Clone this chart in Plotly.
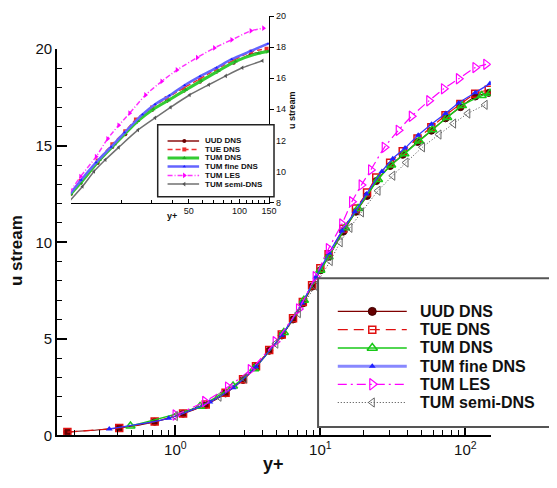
import math
import plotly.graph_objects as go

# ---------------- data ----------------
names = ["UUD DNS", "TUE DNS", "TUM DNS", "TUM fine DNS", "TUM LES", "TUM semi-DNS"]

yp_uud = [0.18, 0.41, 0.72, 1.13, 1.62, 2.22, 2.93, 3.6, 4.44, 5.42, 6.48, 7.57, 8.77, 10.0, 11.4,
          14.4, 17.6, 21.0, 24.3, 30.3, 37, 46.8, 58.3, 73, 92.5, 117, 145]
u_uud = [0.17, 0.38, 0.70, 1.12, 1.58, 2.17, 2.87, 3.55, 4.38, 5.17, 6.0, 6.83, 7.7, 8.55, 9.25,
         10.55, 11.58, 12.4, 13.17, 13.95, 14.53, 15.2, 15.78, 16.42, 17.0, 17.55, 17.74]

yp_tue = yp_uud
u_tue = [0.17, 0.38, 0.71, 1.13, 1.6, 2.2, 2.9, 3.58, 4.42, 5.22, 6.06, 6.9, 7.78, 8.65, 9.38,
         10.7, 11.75, 12.58, 13.35, 14.12, 14.72, 15.38, 15.96, 16.58, 17.16, 17.7, 17.9]

yp_tum = [0.49, 1.48, 2.5, 3.5, 5.6, 7.7, 10, 11.4, 14.8, 18.2, 25, 30.8, 38, 48, 59.2, 75,
          94.8, 129.8, 148]
u_tum = [0.48, 1.5, 2.55, 3.45, 5.33, 7.0, 8.55, 9.25, 10.75, 11.75, 13.25, 14.0, 14.58, 15.25,
         15.83, 16.47, 17.08, 17.6, 17.72]

yp_fine = [0.35, 0.9, 1.73, 2.5, 3.6, 5.4, 7.5, 9.3, 11.5, 14.1, 17.3, 20.8, 26.6, 31.6, 38.4,
           47.3, 58.4, 73, 90, 117, 148]
u_fine = [0.33, 0.88, 1.72, 2.47, 3.55, 5.18, 6.85, 8.2, 9.45, 10.58, 11.58, 12.5, 13.67, 14.33,
          14.88, 15.55, 16.12, 16.67, 17.22, 17.75, 18.22]

yp_les = [1.0, 1.6, 2.3, 3.3, 4.9, 7.1, 9.25, 11.4, 14.1, 16.5, 19.2, 22.3, 27.7, 34.6, 42.6,
          56.2, 71, 90, 117, 139]
u_les = [1.05, 1.75, 2.5, 3.4, 4.85, 6.55, 8.22, 9.67, 10.95, 12.1, 12.97, 13.75, 14.92, 15.8,
         16.53, 17.33, 17.95, 18.47, 19.05, 19.22]

yp_semi = [1.0, 2.0, 3.0, 4.93, 7.05, 9.2, 11.7, 13.7, 16, 19.2, 25, 31.6, 39, 50.6, 65.8, 83,
           104, 137]
u_semi = [1.0, 2.0, 2.95, 4.75, 6.33, 7.75, 9.03, 10.0, 10.75, 11.55, 12.67, 13.45, 14.13,
          14.92, 15.58, 16.15, 16.67, 17.12]

xs = [yp_uud, yp_tue, yp_tum, yp_fine, yp_les, yp_semi]
ys = [u_uud, u_tue, u_tum, u_fine, u_les, u_semi]

main_xticks = [1, 10, 100]
main_xticktext = ["10<sup>0</sup>", "10<sup>1</sup>", "10<sup>2</sup>"]
main_xminor = [0.2, 0.3, 0.4, 0.5, 0.6, 0.7, 0.8, 0.9, 2, 3, 4, 5, 6, 7, 8, 9,
               20, 30, 40, 50, 60, 70, 80, 90]
inset_xticks = [50, 100, 150]
inset_xticktext = ["50", "100", "150"]
inset_xminor = [20, 30, 40, 60, 70, 80, 90, 110, 120, 130, 140]

# ---------------- styles ----------------
main_style = [
    dict(lc="#800000", lw=1.2, dash="solid", sym="circle", ms=7, mc="#650000", mlc="#400000", mlw=1),
    dict(lc="#e01010", lw=1.2, dash="10px,6px", sym="square-open", ms=7, mc="#e01010", mlc="#e01010", mlw=1.5),
    dict(lc="#18c818", lw=1.5, dash="solid", sym="triangle-up-open", ms=8, mc="#18c818", mlc="#18c818", mlw=1.5),
    dict(lc="#3535ff", lw=1.3, dash="solid", sym="triangle-up", ms=6, mc="#2020ff", mlc="#2020ff", mlw=0),
    dict(lc="#ff00ff", lw=1.2, dash="9px,4px,2px,4px", sym="triangle-right-open", ms=9, mc="#ff00ff", mlc="#ff00ff", mlw=1.2),
    dict(lc="#444444", lw=1.0, dash="1px,2px", sym="triangle-left-open", ms=8, mc="#666666", mlc="#666666", mlw=1),
]
leg_style = [dict(s) for s in main_style]
leg_style[0].update(ms=8)
leg_style[2].update(ms=9)
leg_style[3].update(lc="#8888ff", lw=3)
leg_style[4].update(ms=10)

inset_style = [
    dict(lc="#8b1010", lw=1.5, dash="solid", sym="circle", ms=4, mc="#6a0000", mlc="#6a0000", mlw=0),
    dict(lc="#ee3030", lw=1.5, dash="5px,3px", sym="square", ms=4, mc="#ee3030", mlc="#ee3030", mlw=0),
    dict(lc="#33cc33", lw=3, dash="solid", sym="triangle-up", ms=4, mc="#22aa22", mlc="#22aa22", mlw=0),
    dict(lc="#6464ff", lw=2.5, dash="solid", sym="triangle-up", ms=3, mc="#2020ff", mlc="#2020ff", mlw=0),
    dict(lc="#ff33ff", lw=1.5, dash="5px,2px,1px,2px", sym="triangle-right", ms=5, mc="#ff00ff", mlc="#ff00ff", mlw=0),
    dict(lc="#707070", lw=1.5, dash="solid", sym="triangle-left", ms=4, mc="#555555", mlc="#555555", mlw=0),
]

W, H = 557, 488
fig = go.Figure()


def add_series(x, y, st, xa, ya):
    fig.add_trace(go.Scatter(
        x=x, y=y, mode="lines+markers", xaxis=xa, yaxis=ya, showlegend=False,
        line=dict(color=st["lc"], width=st["lw"], dash=st["dash"], shape="spline", smoothing=0.6),
        marker=dict(symbol=st["sym"], size=st["ms"], color=st["mc"],
                    line=dict(color=st["mlc"], width=st["mlw"])),
        hoverinfo="skip"))


for x, y, st in zip(xs, ys, main_style):
    add_series(x, y, st, "x", "y")
for x, y, st in zip(xs, ys, inset_style):
    add_series(x, y, st, "x2", "y2")

# ---------------- manual legends (pixel overlay axis x3/y3) ----------------
shapes = []
annotations = []


def legend(box, rows, lx0, lx1, mx, tx, fsize, styles, border="#555555", bw=2):
    shapes.append(dict(type="rect", xref="x3", yref="y3", x0=box[0], x1=box[1], y0=box[2], y1=box[3],
                       line=dict(color=border, width=bw), fillcolor="white", layer="below"))
    for name, ry, st in zip(names, rows, styles):
        fig.add_trace(go.Scatter(x=[lx0, lx1], y=[ry, ry], mode="lines", xaxis="x3", yaxis="y3",
                                 showlegend=False, hoverinfo="skip",
                                 line=dict(color=st["lc"], width=st["lw"], dash=st["dash"])))
        fig.add_trace(go.Scatter(x=[mx], y=[ry], mode="markers", xaxis="x3", yaxis="y3",
                                 showlegend=False, hoverinfo="skip",
                                 marker=dict(symbol=st["sym"], size=st["ms"], color=st["mc"],
                                             line=dict(color=st["mlc"], width=st["mlw"]))))
        annotations.append(dict(xref="x3", yref="y3", x=tx, y=ry, text="<b>%s</b>" % name,
                                showarrow=False, xanchor="left", yanchor="middle",
                                font=dict(size=fsize, color="#111111",
                                          family="Liberation Sans, Arial, sans-serif")))


legend((322.7, 580, 279, 433), [313.3, 332.3, 351.2, 370.1, 388.9, 407.7],
       342.7, 412.7, 377.7, 424, 16, leg_style)
legend((160, 278, 120, 194.5), [136.7, 145.5, 154.3, 163.2, 172.4, 181.4],
       170, 202, 187, 205.5, 8, inset_style, border="#222222", bw=1.5)

# axis titles
annotations += [
    dict(xref="x3", yref="y3", x=277, y=471, text="<b>y+</b>", showarrow=False,
         font=dict(size=18, color="#111111")),
    dict(xref="x3", yref="y3", x=17, y=250, text="<b>u stream</b>", showarrow=False, textangle=-90,
         font=dict(size=17, color="#111111")),
    dict(xref="x3", yref="y3", x=175, y=214, text="<b>y+</b>", showarrow=False,
         font=dict(size=9, color="#111111")),
    dict(xref="x3", yref="y3", x=297, y=105, text="<b>u stream</b>", showarrow=False, textangle=-90,
         font=dict(size=9, color="#111111")),
]


def fx(px):
    return px / W


def fy(py):
    return 1 - py / H


fig.update_layout(
    width=W, height=H, autosize=False,
    margin=dict(l=0, r=0, t=0, b=0, pad=0),
    paper_bgcolor="white", plot_bgcolor="rgba(0,0,0,0)",
    font=dict(family="Liberation Sans, Arial, sans-serif", color="#111111"),
    showlegend=False,
    shapes=shapes, annotations=annotations,
    xaxis=dict(type="log", range=[math.log10(0.153), math.log10(150)],
               domain=[fx(58), fx(498)], anchor="y",
               showline=True, linecolor="black", linewidth=2, mirror=False,
               showgrid=False, zeroline=False,
               ticks="inside", ticklen=10, tickwidth=2, tickcolor="black",
               tickvals=main_xticks, ticktext=main_xticktext,
               tickfont=dict(size=15, color="#111111"),
               minor=dict(ticks="inside", ticklen=5, tickwidth=1, tickcolor="black",
                          tickvals=main_xminor, showgrid=False)),
    yaxis=dict(range=[0, 20], domain=[fy(441.7), fy(41.7)], anchor="x",
               showline=True, linecolor="black", linewidth=2,
               showgrid=False, zeroline=False,
               ticks="inside", ticklen=10, tickwidth=2, tickcolor="black",
               tick0=0, dtick=5, tickfont=dict(size=15, color="#111111"),
               minor=dict(ticks="inside", ticklen=5, tickwidth=1, tickcolor="black",
                          dtick=1, showgrid=False)),
    xaxis2=dict(type="log", range=[1, math.log10(150)],
                domain=[fx(72), fx(273)], anchor="y2",
                showline=True, linecolor="black", linewidth=1,
                showgrid=False, zeroline=False,
                ticks="inside", ticklen=4, tickwidth=1, tickcolor="black",
                tickvals=inset_xticks, ticktext=inset_xticktext,
                tickfont=dict(size=9, color="#111111"),
                minor=dict(ticks="inside", ticklen=3, tickwidth=1, tickcolor="black",
                           tickvals=inset_xminor, showgrid=False)),
    yaxis2=dict(range=[8, 20], domain=[fy(200.5), fy(7.3)], anchor="x2", side="right",
                showline=True, linecolor="black", linewidth=1,
                showgrid=False, zeroline=False,
                ticks="outside", ticklen=4, tickwidth=1, tickcolor="black",
                tick0=8, dtick=2, tickfont=dict(size=9, color="#111111")),
    xaxis3=dict(domain=[0, 1], range=[0, W], visible=False, fixedrange=True, anchor="y3",
                showticklabels=False),
    yaxis3=dict(domain=[0, 1], range=[H, 0], visible=False, fixedrange=True, anchor="x3",
                showticklabels=False),
)

fig.write_html("out.html", config={"displayModeBar": False})
